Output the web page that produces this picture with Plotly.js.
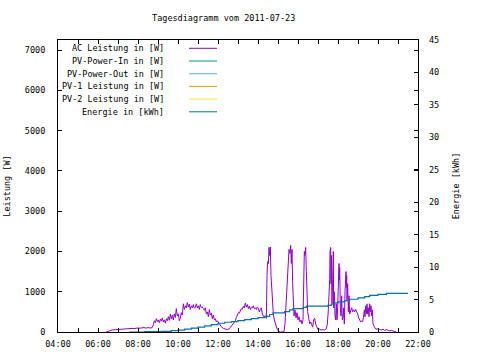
<!DOCTYPE html>
<html>
<head>
<meta charset="utf-8">
<script src="https://cdn.plot.ly/plotly-3.0.1.min.js"></script>
<style>html,body{margin:0;padding:0;background:#fff;}#chart{width:480px;height:360px;}</style>
</head>
<body>
<div id="chart"></div>
<script>
// ---- data ----
var day = "2011-07-23";
var seriesNames = ["AC Leistung in [W]", "PV-Power-In in [W]", "PV-Power-Out in [W]",
                   "PV-1 Leistung in [W]", "PV-2 Leistung in [W]", "Energie in [kWh]"];
var seriesColors = ["#9400d3", "#009e73", "#56b4e9", "#e69f00", "#f0e442", "#0072b2"];

var acTimes = ["06:24","06:30","06:36","06:42","06:48","06:54","07:00","07:06","07:12","07:18","07:24","07:30","07:36","07:42","07:48","07:54","08:00","08:06","08:12","08:18","08:24","08:30","08:36","08:42","08:46","08:49","08:52","08:55","08:58","09:01","09:04","09:07","09:10","09:13","09:16","09:19","09:22","09:25","09:28","09:31","09:34","09:37","09:40","09:43","09:46","09:49","09:52","09:55","09:58","10:01","10:04","10:07","10:10","10:13","10:16","10:19","10:22","10:25","10:28","10:31","10:34","10:37","10:40","10:43","10:46","10:49","10:52","10:55","10:58","11:01","11:04","11:07","11:10","11:13","11:16","11:19","11:22","11:25","11:28","11:31","11:34","11:37","11:40","11:43","11:46","11:49","11:52","11:55","11:58","12:04","12:10","12:16","12:22","12:28","12:34","12:40","12:46","12:52","12:55","12:58","13:01","13:04","13:07","13:10","13:13","13:16","13:19","13:22","13:25","13:28","13:31","13:34","13:37","13:40","13:43","13:46","13:49","13:52","13:55","13:58","14:01","14:04","14:07","14:10","14:13","14:16","14:19","14:22","14:25","14:27","14:29","14:31","14:33","14:35","14:37","14:39","14:41","14:43","14:46","14:49","14:52","14:55","14:58","15:02","15:06","15:12","15:18","15:21","15:24","15:27","15:30","15:33","15:36","15:38","15:40","15:42","15:44","15:46","15:48","15:51","15:54","15:57","16:00","16:03","16:06","16:09","16:12","16:15","16:17","16:19","16:21","16:23","16:25","16:27","16:29","16:32","16:35","16:38","16:41","16:44","16:47","16:50","16:53","16:56","17:00","17:05","17:10","17:15","17:20","17:25","17:28","17:31","17:33","17:35","17:36","17:37","17:38","17:39","17:40","17:42","17:44","17:46","17:47","17:49","17:51","17:53","17:55","17:57","17:59","18:01","18:03","18:04","18:05","18:07","18:09","18:11","18:13","18:15","18:17","18:19","18:21","18:23","18:24","18:25","18:26","18:27","18:29","18:31","18:33","18:35","18:38","18:41","18:44","18:47","18:50","18:53","18:56","18:59","19:02","19:05","19:08","19:11","19:14","19:17","19:19","19:21","19:23","19:25","19:27","19:29","19:31","19:33","19:35","19:37","19:39","19:41","19:43","19:45","19:48","19:51","19:54","20:00","20:05","20:10","20:15","20:20","20:25","20:30","20:35","20:40","20:45","20:50","20:55"];
var acWatts = [0,25,30,50,55,50,65,70,70,65,75,85,85,90,85,95,100,95,100,110,95,110,100,105,180,280,230,330,260,300,230,320,270,350,250,300,220,330,280,380,290,440,330,420,300,450,360,580,400,450,280,350,480,420,700,560,650,600,730,620,690,560,650,600,680,590,620,700,600,650,560,680,610,620,580,540,600,450,500,380,560,420,470,330,420,300,330,250,280,200,130,90,70,60,80,150,230,280,360,420,480,470,530,580,560,640,600,720,620,680,580,640,560,620,600,650,580,600,560,620,580,500,560,600,450,400,360,400,340,1400,1750,1700,2100,1900,2110,1400,1100,700,450,300,200,120,60,20,0,0,10,200,700,1300,1800,2050,1950,2150,1700,2050,1200,700,400,550,350,480,300,380,250,300,200,300,900,2000,1900,2100,1500,900,500,350,200,250,150,120,300,340,200,120,60,70,50,60,50,80,200,550,900,1300,2000,1500,2100,1200,1900,700,1300,2000,600,1000,400,300,700,300,600,1000,1700,1300,1600,600,400,900,300,350,600,200,1000,1400,1500,1100,1400,800,1200,500,900,450,550,600,500,550,500,560,500,450,350,280,250,270,260,400,550,380,650,450,700,450,600,380,700,500,650,400,550,200,120,100,70,80,60,50,70,40,60,40,30,40,25,20,0];

var enTimes = ["07:34","08:20","09:10","09:40","10:00","10:20","10:40","11:00","11:20","11:40","12:00","12:20","12:40","13:00","13:20","13:40","14:00","14:20","14:35","14:45","15:20","15:35","15:45","16:15","16:25","17:30","17:40","17:50","18:00","18:20","18:35","19:00","19:20","19:35","20:00","20:25","21:30"];
var enKWh = [0,0.05,0.1,0.2,0.3,0.45,0.6,0.75,0.95,1.15,1.35,1.5,1.6,1.75,1.9,2.05,2.2,2.4,2.7,2.95,3.15,3.4,3.6,3.8,4.0,4.1,4.3,4.5,4.65,4.85,5.05,5.25,5.45,5.65,5.8,5.95,5.95];

var pvInW = [], pvOutW = [], pv1W = [], pv2W = [];

var title = "Tagesdiagramm vom 2011-07-23";
var yTitle = "Leistung [W]";
var y2Title = "Energie [kWh]";

// ---- build ----
function toDate(list){ return list.map(function(t){ return day + " " + t; }); }
var FONT = "DejaVu Sans Mono";

var traces = [
  {x: toDate(acTimes), y: acWatts, name: seriesNames[0], type: "scatter", mode: "lines",
   line: {color: seriesColors[0], width: 1}, showlegend: false},
  {x: [], y: pvInW, name: seriesNames[1], type: "scatter", mode: "lines", line: {color: seriesColors[1], width: 1}, showlegend: false},
  {x: [], y: pvOutW, name: seriesNames[2], type: "scatter", mode: "lines", line: {color: seriesColors[2], width: 1}, showlegend: false},
  {x: [], y: pv1W, name: seriesNames[3], type: "scatter", mode: "lines", line: {color: seriesColors[3], width: 1}, showlegend: false},
  {x: [], y: pv2W, name: seriesNames[4], type: "scatter", mode: "lines", line: {color: seriesColors[4], width: 1}, showlegend: false},
  {x: toDate(enTimes), y: enKWh, name: seriesNames[5], type: "scatter", mode: "lines", yaxis: "y2",
   line: {color: seriesColors[5], width: 1.2, shape: "hv"}, showlegend: false}
];

// gnuplot-style key (text right-aligned, sample to the right)
var annotations = [], shapes = [];
var plotTop = 40, plotH = 292, plotL = 58, plotW = 360;
for (var i = 0; i < seriesNames.length; i++) {
  var py = 48.3 + i * 12.7;
  var yp = (plotTop + plotH - py) / plotH;
  annotations.push({xref: "paper", yref: "paper", x: (166 - plotL) / plotW, y: yp,
    xanchor: "right", yanchor: "middle", showarrow: false, text: seriesNames[i],
    font: {family: FONT, size: 8.5, color: "#000"}});
  shapes.push({type: "line", xref: "paper", yref: "paper",
    x0: (189 - plotL) / plotW, x1: (217 - plotL) / plotW, y0: yp, y1: yp,
    line: {color: seriesColors[i], width: 1}});
}

var axisFont = {family: FONT, size: 8.5, color: "#000"};
var layout = {
  width: 480, height: 360,
  paper_bgcolor: "#fff", plot_bgcolor: "#fff",
  margin: {l: 58, r: 62, t: 40, b: 28, pad: 0},
  font: axisFont,
  title: {text: title, font: {family: FONT, size: 8.5, color: "#000"},
          x: 0.466, xref: "container", xanchor: "center", y: 0.95, yref: "container", yanchor: "middle"},
  xaxis: {type: "date", range: [day + " 04:00", day + " 22:00"],
          tick0: day + " 00:00", dtick: 7200000, tickformat: "%H:%M",
          ticks: "inside", ticklen: 4, tickcolor: "#000", mirror: "ticks",
          showline: true, linecolor: "#000", linewidth: 1, showgrid: false, zeroline: false,
          minor: {dtick: 3600000, ticks: "inside", ticklen: 4, tickcolor: "#000", showgrid: false},
          tickfont: axisFont, ticklabelstandoff: 4},
  yaxis: {range: [0, 7250], dtick: 1000, ticks: "inside", ticklen: 4, tickcolor: "#000",
          mirror: "ticks", showline: true, linecolor: "#000", linewidth: 1,
          showgrid: false, zeroline: false, tickfont: axisFont, ticklabelstandoff: 10,
          title: {text: yTitle, font: axisFont, standoff: 12}},
  yaxis2: {range: [0, 45], dtick: 5, overlaying: "y", side: "right",
           ticks: "inside", ticklen: 4, tickcolor: "#000", showline: false,
           showgrid: false, zeroline: false, tickfont: axisFont, ticklabelstandoff: 10,
           title: {text: y2Title, font: axisFont, standoff: 14}},
  annotations: annotations,
  shapes: shapes
};

Plotly.newPlot("chart", traces, layout, {displayModeBar: false, staticPlot: true});
</script>
</body>
</html>
